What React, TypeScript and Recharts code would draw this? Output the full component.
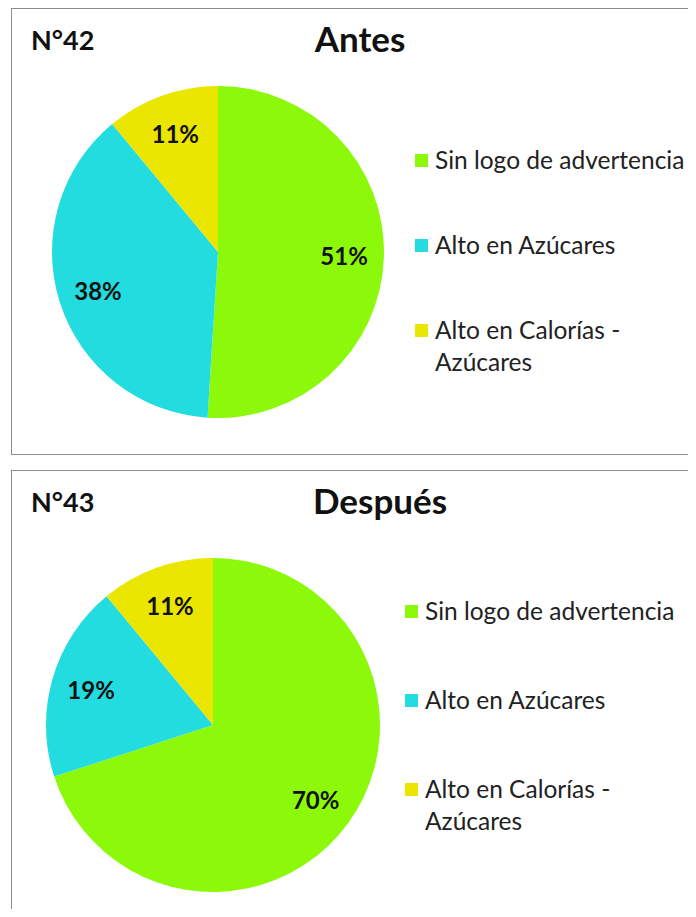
import { PieChart, Pie, Cell, Legend } from 'recharts';

const categories = ['Sin logo de advertencia', 'Alto en Azúcares', 'Alto en Calorías - Azúcares'];
const antesValues = [51, 38, 11];
const despuesValues = [70, 19, 11];
const colors = ['#8cf90a', '#22dce0', '#ebe600'];

const FONT = 'Lato, "Open Sans", sans-serif';
const RAD = Math.PI / 180;

function renderLabel(props: any) {
  const { cx, cy, midAngle, outerRadius, value } = props;
  const r = outerRadius * 0.76;
  const x = cx + r * Math.cos(-midAngle * RAD);
  const y = cy + r * Math.sin(-midAngle * RAD);
  return (
    <text
      x={x}
      y={y}
      textAnchor="middle"
      dominantBaseline="central"
      fill="#111"
      fontSize={24}
      fontWeight={700}
      fontFamily={FONT}
    >
      {value}%
    </text>
  );
}

function makeLegend(gap: number) {
  return () => (
    <div style={{ fontFamily: FONT, fontSize: 24.5, color: '#222' }}>
      {categories.map((c, i) => (
        <div key={c} style={{ display: 'flex', alignItems: 'flex-start', marginBottom: i < 2 ? gap : 0 }}>
          <span
            style={{
              display: 'inline-block',
              width: 13,
              height: 13,
              background: colors[i],
              marginTop: 10,
              marginRight: 7,
              flexShrink: 0,
            }}
          />
          <span
            style={{
              lineHeight: '32px',
              width: i === 2 ? 220 : undefined,
              whiteSpace: i === 2 ? 'normal' : 'nowrap',
            }}
          >
            {c}
          </span>
        </div>
      ))}
    </div>
  );
}

interface PanelProps {
  top: number;
  height: number;
  num: string;
  title: string;
  titleX: number;
  values: number[];
  cx: number;
  cy: number;
  radius: number;
  legendLeft: number;
  legendTop: number;
  legendGap: number;
}

function Panel({ top, height, num, title, titleX, values, cx, cy, radius, legendLeft, legendTop, legendGap }: PanelProps) {
  const data = categories.map((name, i) => ({ name, value: values[i] }));
  return (
    <div
      style={{
        position: 'absolute',
        left: 11,
        top,
        width: 700,
        height,
        border: '1px solid #8c8c8c',
        background: '#fff',
      }}
    >
      <div
        style={{
          position: 'absolute',
          left: 19,
          top: 14,
          fontFamily: FONT,
          fontWeight: 700,
          fontSize: 27,
          color: '#111',
        }}
      >
        {num}
      </div>
      <div
        style={{
          position: 'absolute',
          left: titleX,
          top: 8,
          transform: 'translateX(-50%)',
          fontFamily: FONT,
          fontWeight: 700,
          fontSize: 35,
          color: '#111',
          whiteSpace: 'nowrap',
        }}
      >
        {title}
      </div>
      <PieChart width={700} height={height} margin={{ top: 0, right: 0, bottom: 0, left: 0 }}>
        <Pie
          data={data}
          dataKey="value"
          nameKey="name"
          cx={cx}
          cy={cy}
          outerRadius={radius}
          startAngle={90}
          endAngle={-270}
          stroke="none"
          label={renderLabel}
          labelLine={false}
          isAnimationActive={false}
        >
          {data.map((d, i) => (
            <Cell key={d.name} fill={colors[i]} />
          ))}
        </Pie>
        <Legend
          content={makeLegend(legendGap)}
          wrapperStyle={{ position: 'absolute', left: legendLeft, top: legendTop, width: 290 }}
        />
      </PieChart>
    </div>
  );
}

export default function App() {
  return (
    <div style={{ position: 'relative', margin: -8, width: 696, height: 917, overflow: 'hidden', background: '#fff' }}>
      <Panel
        top={8}
        height={445}
        num="N°42"
        title="Antes"
        titleX={348}
        values={antesValues}
        cx={206}
        cy={243}
        radius={166}
        legendLeft={403}
        legendTop={135}
        legendGap={53}
      />
      <Panel
        top={470}
        height={460}
        num="N°43"
        title="Después"
        titleX={368}
        values={despuesValues}
        cx={201}
        cy={254}
        radius={167}
        legendLeft={393}
        legendTop={124}
        legendGap={57}
      />
    </div>
  );
}
